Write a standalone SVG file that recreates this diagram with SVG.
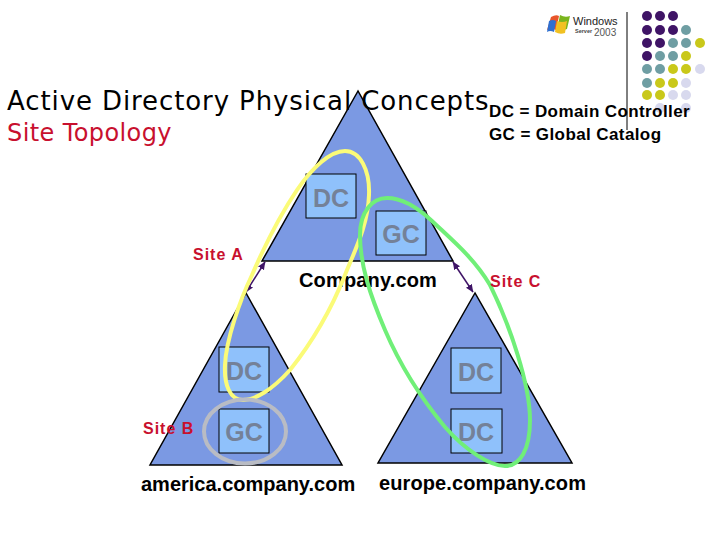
<svg xmlns="http://www.w3.org/2000/svg" width="720" height="540" viewBox="0 0 720 540">
<style>
.tri{fill:#7b99e3;stroke:#000;stroke-width:1.5}
.box{fill:#8fc1fb;stroke:#000;stroke-width:1}
.bl{font:bold 25px "Liberation Sans",Arial,sans-serif;fill:#748198;text-anchor:middle}
.site{font:bold 16px "Liberation Sans",Arial,sans-serif;fill:#c8102e;letter-spacing:1px}
.dom{font:bold 20px "Liberation Sans",Arial,sans-serif;fill:#000}
.key{font:bold 17px "Liberation Sans",Arial,sans-serif;fill:#000;letter-spacing:.4px}
.p{fill:#3f1466}.t{fill:#6f9ea3}.y{fill:#c9c81a}.l{fill:#d8d9ee}
.ring{fill:none;stroke-width:4}
</style>
<defs>
<marker id="ah" viewBox="0 0 8 8" refX="7.5" refY="4" markerWidth="8" markerHeight="8" orient="auto-start-reverse" markerUnits="userSpaceOnUse"><path d="M0 0.5L8 4L0 7.5z" fill="#3f1466"/></marker>
</defs>
<rect width="720" height="540" fill="#fff"/>
<g id="logo">
<path d="M551 17Q556 14 559 16L556 30Q552 28 547 30z" fill="#e8552a"/>
<path d="M560 15Q565 18 570 16L567 29Q562 31 557 29z" fill="#7ab51d"/>
<path d="M549 21Q553 19 556 21L554 32Q550 30 547 32z" fill="#2f6fd0"/>
<path d="M557 21Q562 23 567 21L565 33Q560 35 555 32z" fill="#f1c122"/>
<text x="573" y="25" font-family="Liberation Sans,Arial,sans-serif" font-size="11" fill="#222">Windows</text>
<text x="575" y="33" font-family="Liberation Sans,Arial,sans-serif" font-size="5.5" font-weight="bold" fill="#444">Server</text>
<text x="594" y="36" font-family="Liberation Sans,Arial,sans-serif" font-size="10" fill="#555">2003</text>
</g>
<g id="dots">
<circle class="p" cx="647" cy="16" r="5"/><circle class="p" cx="660" cy="16" r="5"/><circle class="p" cx="673" cy="16" r="5"/>
<circle class="p" cx="647" cy="30" r="5"/><circle class="p" cx="660" cy="30" r="5"/><circle class="p" cx="673" cy="30" r="5"/><circle class="t" cx="686" cy="30" r="5"/>
<circle class="p" cx="647" cy="43" r="5"/><circle class="p" cx="660" cy="43" r="5"/><circle class="t" cx="673" cy="43" r="5"/><circle class="t" cx="686" cy="43" r="5"/><circle class="y" cx="700" cy="43" r="5"/>
<circle class="p" cx="647" cy="56" r="5"/><circle class="t" cx="660" cy="56" r="5"/><circle class="t" cx="673" cy="56" r="5"/><circle class="y" cx="686" cy="56" r="5"/>
<circle class="t" cx="647" cy="69" r="5"/><circle class="t" cx="660" cy="69" r="5"/><circle class="y" cx="673" cy="69" r="5"/><circle class="y" cx="686" cy="69" r="5"/><circle class="l" cx="700" cy="69" r="5"/>
<circle class="t" cx="647" cy="83" r="5"/><circle class="y" cx="660" cy="83" r="5"/><circle class="y" cx="673" cy="83" r="5"/><circle class="l" cx="686" cy="83" r="5"/>
<circle class="y" cx="647" cy="95" r="5"/><circle class="y" cx="660" cy="95" r="5"/><circle class="l" cx="673" cy="95" r="5"/><circle class="l" cx="686" cy="95" r="5"/>
<circle class="l" cx="660" cy="108" r="5"/><circle class="l" cx="686" cy="108" r="5"/>
</g>
<line x1="627" y1="12" x2="627" y2="130" stroke="#000" stroke-width="1"/>
<g id="company">
<polygon class="tri" points="358,91 262,261 453,261"/>
<rect class="box" x="306" y="174" width="50" height="44"/>
<text class="bl" x="331" y="207">DC</text>
<rect class="box" x="376" y="211" width="50" height="44"/>
<text class="bl" x="401" y="243">GC</text>
<text class="dom" x="299" y="287" letter-spacing=".15">Company.com</text>
</g>
<g id="america">
<polygon class="tri" points="246,293 150,465 342,465"/>
<rect class="box" x="219" y="347" width="50" height="45"/>
<text class="bl" x="244" y="380">DC</text>
<rect class="box" x="219" y="409" width="50" height="44"/>
<text class="bl" x="244" y="441">GC</text>
<text class="dom" x="141" y="491">america.company.com</text>
</g>
<g id="europe">
<polygon class="tri" points="475,293 378,463 572,463"/>
<rect class="box" x="451" y="348" width="50" height="45"/>
<text class="bl" x="476" y="381">DC</text>
<rect class="box" x="451" y="409" width="51" height="44"/>
<text class="bl" x="476" y="441">DC</text>
<text class="dom" x="379" y="490" letter-spacing=".1">europe.company.com</text>
</g>
<g id="connectors" fill="none">
<line x1="265" y1="262" x2="246" y2="292" stroke="#3f1466" stroke-width="1.5" marker-start="url(#ah)" marker-end="url(#ah)"/>
<line x1="453" y1="262" x2="473" y2="292" stroke="#3f1466" stroke-width="1.5" marker-start="url(#ah)" marker-end="url(#ah)"/>
<path class="ring" stroke="#fbfb78" d="M345 151C360 151 370 170 369 195C368 225 355 250 345 275C335 300 318 335 290 370C272 390 255 400 243 400C230 400 224 385 225 365C226 340 240 300 252 275C265 245 280 215 297 190C312 168 330 151 345 151Z"/>
<path class="ring" stroke="#70ef78" d="M387 198C402 198 416 206 432 221C452 240 474 258 490 285C510 325 530 385 530 420C530 450 520 466 505 466C490 466 465 450 445 427C420 397 400 365 385 330C370 295 360 265 360 235C360 212 372 198 387 198Z"/>
<ellipse class="ring" cx="245" cy="431.5" rx="41" ry="32" stroke="#b9bcc4"/>
</g>
<g id="labels">
<text font-family="DejaVu Sans,Verdana,sans-serif" font-size="26" letter-spacing="0.9" x="7" y="110" fill="#000">Active Directory Physical Concepts</text>
<text font-family="DejaVu Sans,Verdana,sans-serif" font-size="24" letter-spacing="0.4" x="7" y="141" fill="#c8102e">Site Topology</text>
<text class="key" x="489" y="117">DC = Domain Controller</text>
<text class="key" x="489" y="140">GC = Global Catalog</text>
<text class="site" x="193" y="260">Site A</text>
<text class="site" x="490" y="287">Site C</text>
<text class="site" x="143" y="434">Site B</text>
</g>
</svg>
